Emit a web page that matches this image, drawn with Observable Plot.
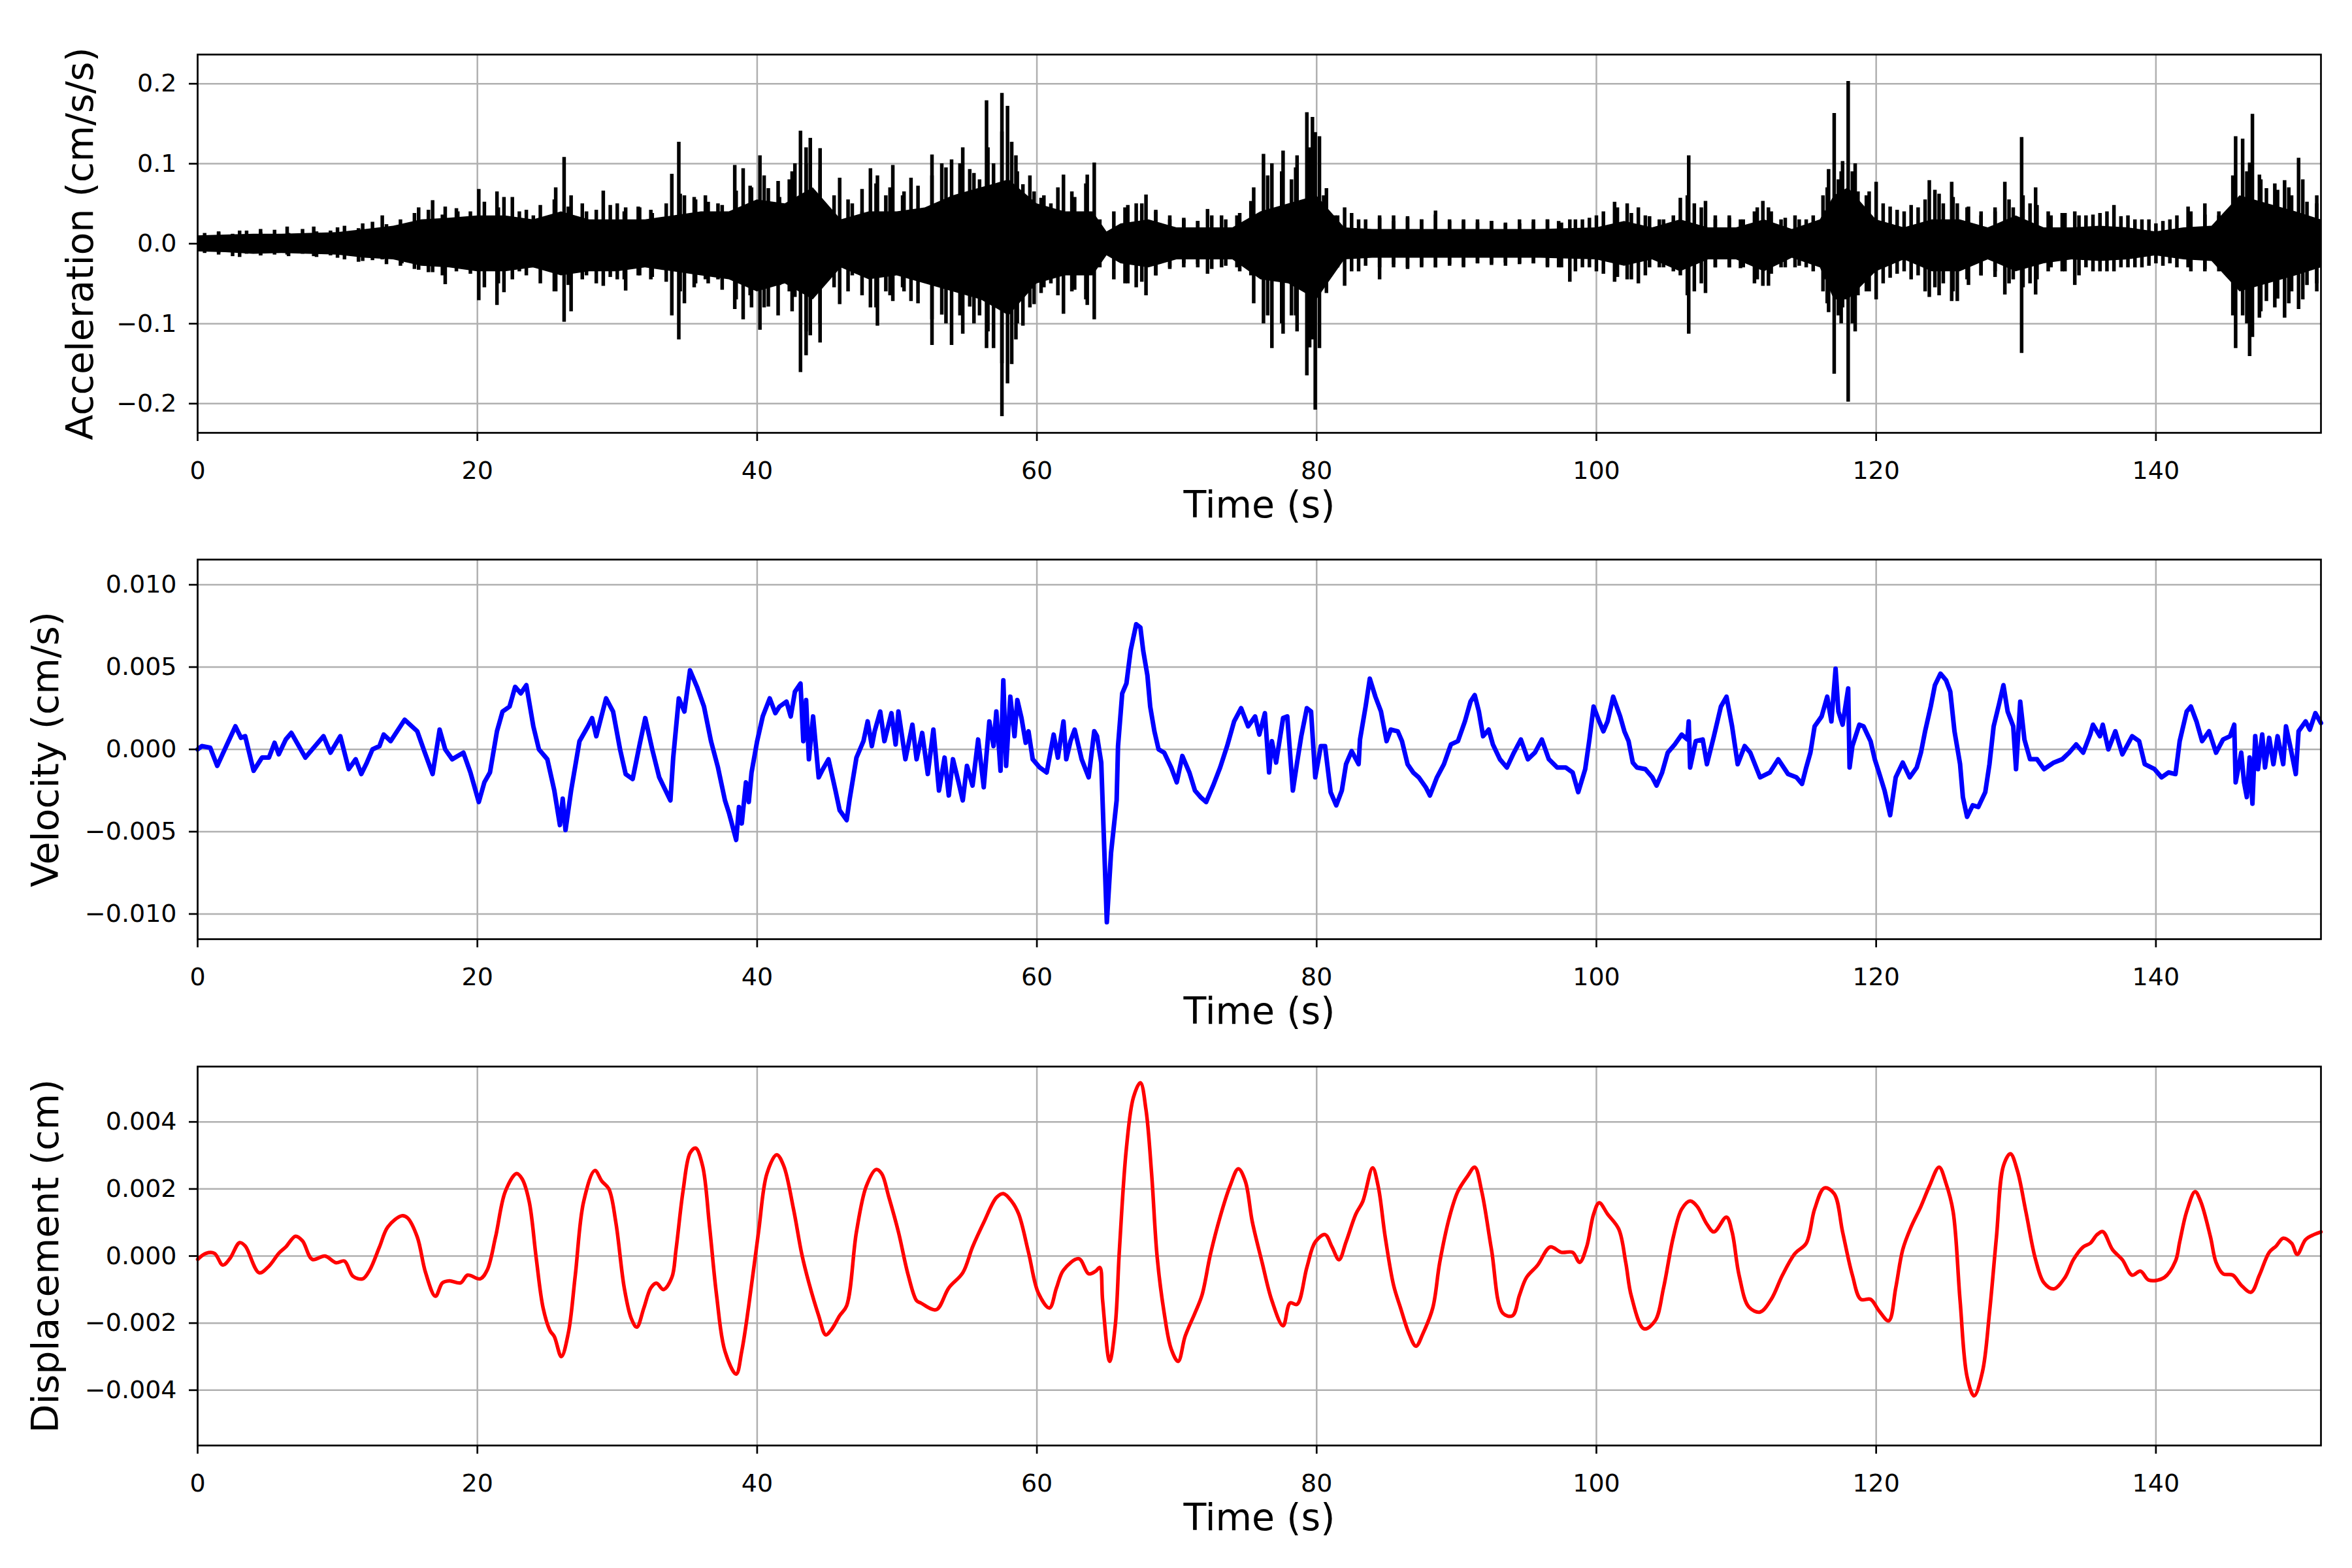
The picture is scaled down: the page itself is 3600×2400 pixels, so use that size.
<!DOCTYPE html>
<html>
<head>
<meta charset="utf-8">
<script src="https://cdn.jsdelivr.net/npm/d3@7"></script>
<script src="https://cdn.jsdelivr.net/npm/@observablehq/plot@0.6"></script>
<style>
  html, body { margin: 0; padding: 0; background: white; overflow: hidden; }
  #chart { width: 3600px; }
</style>
</head>
<body>
<div id="chart"></div>
<script>
// time axis
const tMax = 151.8
const timeTicks = [0, 20, 40, 60, 80, 100, 120, 140]

// acceleration: dense core band (cm/s/s)
const accCoreT  = [0, 2, 4, 6, 8, 10, 12, 14, 16, 18, 20, 22, 24, 26, 28, 30, 32, 34, 36, 38, 40, 42, 44, 46, 48, 50, 52, 54, 56, 58, 60, 62, 64, 65, 66, 68, 70, 72, 74, 76, 78, 80, 82, 84, 88, 92, 96, 100, 102, 104, 106, 108, 110, 112, 114, 116, 117, 118, 120, 122, 124, 126, 128, 130, 132, 134, 136, 138, 140, 142, 144, 146, 148, 150, 151.8]
const accCoreHi = [0.01, 0.011, 0.012, 0.012, 0.013, 0.014, 0.018, 0.022, 0.03, 0.032, 0.035, 0.035, 0.03, 0.04, 0.03, 0.03, 0.03, 0.035, 0.04, 0.04, 0.055, 0.05, 0.07, 0.03, 0.04, 0.04, 0.045, 0.06, 0.07, 0.08, 0.05, 0.04, 0.04, 0.015, 0.025, 0.03, 0.02, 0.02, 0.02, 0.04, 0.05, 0.06, 0.02, 0.018, 0.018, 0.018, 0.018, 0.02, 0.028, 0.02, 0.03, 0.02, 0.02, 0.03, 0.018, 0.03, 0.06, 0.07, 0.03, 0.02, 0.03, 0.03, 0.02, 0.035, 0.02, 0.02, 0.022, 0.02, 0.015, 0.02, 0.022, 0.06, 0.05, 0.04, 0.03]
const accCoreLo = [-0.01, -0.011, -0.013, -0.012, -0.013, -0.014, -0.018, -0.02, -0.028, -0.03, -0.035, -0.035, -0.03, -0.04, -0.035, -0.035, -0.03, -0.035, -0.04, -0.045, -0.06, -0.05, -0.07, -0.03, -0.045, -0.04, -0.05, -0.06, -0.07, -0.09, -0.05, -0.04, -0.04, -0.015, -0.025, -0.03, -0.02, -0.02, -0.02, -0.045, -0.05, -0.07, -0.02, -0.018, -0.018, -0.018, -0.018, -0.02, -0.028, -0.02, -0.035, -0.02, -0.02, -0.035, -0.018, -0.03, -0.07, -0.07, -0.035, -0.02, -0.035, -0.035, -0.02, -0.035, -0.025, -0.02, -0.022, -0.02, -0.015, -0.02, -0.022, -0.06, -0.05, -0.04, -0.03]

// acceleration: large spikes (time, top, bottom)
const accSpikeT  = [1.5, 3.0, 4.5, 6.4, 8.3, 10.0, 11.8, 13.2, 14.6, 15.8, 16.8, 17.7, 18.6, 19.3, 20.1, 21.4, 21.9, 23.0, 24.0, 25.6, 26.2, 26.7, 27.8, 29.0, 30.0, 30.6, 31.6, 32.4, 33.9, 34.4, 34.8, 35.6, 36.3, 37.2, 38.4, 39.0, 39.6, 40.2, 40.8, 41.6, 42.3, 42.7, 43.1, 43.5, 43.8, 44.5, 45.2, 45.9, 46.8, 47.5, 48.1, 48.6, 49.2, 49.7, 50.4, 51.0, 52.5, 53.2, 53.9, 54.7, 55.2, 55.9, 56.4, 56.9, 57.5, 57.9, 58.2, 58.6, 59.0, 59.8, 60.3, 61.0, 61.9, 62.7, 63.6, 64.1, 66.3, 67.1, 67.8, 68.5, 69.5, 70.5, 71.5, 72.2, 73.2, 74.3, 75.3, 76.2, 76.8, 77.6, 78.2, 78.6, 79.3, 79.7, 79.9, 80.2, 80.7, 81.3, 82.0, 83.0, 84.5, 85.5, 86.5, 87.5, 88.5, 89.5, 90.5, 91.5, 92.5, 93.5, 94.5, 95.5, 96.5, 97.3, 98.1, 99.0, 100.0, 101.3, 102.2, 103.0, 103.8, 104.8, 106.0, 106.6, 107.0, 107.8, 108.5, 109.5, 110.3, 111.3, 111.9, 112.3, 113.2, 114.2, 115.0, 116.2, 116.6, 117.0, 117.3, 117.6, 118.0, 118.3, 118.7, 119.3, 120.0, 121.0, 122.0, 123.0, 123.8, 124.2, 124.8, 125.4, 125.8, 126.6, 127.5, 128.5, 129.2, 129.8, 130.4, 131.0, 131.4, 132.3, 133.3, 134.2, 135.0, 136.0, 137.0, 138.0, 139.0, 140.0, 141.0, 142.3, 143.5, 144.5, 145.1, 145.7, 146.2, 146.7, 146.9, 147.4, 147.9, 148.7, 149.2, 149.7, 150.2, 150.8, 151.5]
const accSpikeHi = [0.014, 0.016, 0.018, 0.021, 0.021, 0.02, 0.025, 0.035, 0.023, 0.045, 0.054, 0.046, 0.04, 0.032, 0.068, 0.065, 0.058, 0.04, 0.035, 0.07, 0.108, 0.06, 0.04, 0.066, 0.05, 0.045, 0.045, 0.042, 0.087, 0.127, 0.06, 0.055, 0.06, 0.05, 0.098, 0.094, 0.07, 0.11, 0.069, 0.058, 0.08, 0.1, 0.141, 0.12, 0.132, 0.119, 0.04, 0.082, 0.05, 0.04, 0.094, 0.085, 0.06, 0.098, 0.06, 0.082, 0.111, 0.1, 0.105, 0.12, 0.093, 0.08, 0.179, 0.1, 0.188, 0.172, 0.127, 0.09, 0.074, 0.065, 0.057, 0.05, 0.086, 0.058, 0.086, 0.101, 0.045, 0.05, 0.061, 0.04, 0.03, 0.03, 0.028, 0.043, 0.035, 0.035, 0.053, 0.112, 0.1, 0.116, 0.08, 0.11, 0.164, 0.158, 0.139, 0.134, 0.069, 0.035, 0.045, 0.03, 0.035, 0.035, 0.032, 0.03, 0.041, 0.03, 0.028, 0.03, 0.028, 0.026, 0.025, 0.03, 0.03, 0.028, 0.03, 0.03, 0.035, 0.052, 0.05, 0.045, 0.034, 0.03, 0.057, 0.11, 0.05, 0.053, 0.03, 0.035, 0.03, 0.04, 0.053, 0.045, 0.03, 0.035, 0.03, 0.06, 0.093, 0.163, 0.08, 0.103, 0.203, 0.09, 0.065, 0.06, 0.077, 0.046, 0.04, 0.045, 0.079, 0.067, 0.05, 0.077, 0.05, 0.046, 0.035, 0.04, 0.077, 0.045, 0.133, 0.05, 0.07, 0.04, 0.038, 0.04, 0.035, 0.038, 0.048, 0.035, 0.03, 0.025, 0.03, 0.046, 0.05, 0.035, 0.035, 0.134, 0.131, 0.101, 0.162, 0.086, 0.069, 0.067, 0.079, 0.06, 0.107, 0.052, 0.05]
const accSpikeLo = [-0.012, -0.017, -0.015, -0.014, -0.016, -0.018, -0.022, -0.02, -0.025, -0.033, -0.036, -0.051, -0.03, -0.028, -0.071, -0.077, -0.061, -0.035, -0.03, -0.06, -0.098, -0.085, -0.04, -0.053, -0.045, -0.059, -0.04, -0.045, -0.09, -0.12, -0.075, -0.05, -0.045, -0.045, -0.082, -0.095, -0.08, -0.108, -0.079, -0.052, -0.06, -0.067, -0.161, -0.14, -0.115, -0.124, -0.035, -0.076, -0.04, -0.04, -0.08, -0.103, -0.06, -0.072, -0.055, -0.072, -0.127, -0.089, -0.127, -0.113, -0.079, -0.09, -0.131, -0.131, -0.216, -0.175, -0.151, -0.1, -0.103, -0.076, -0.062, -0.05, -0.088, -0.058, -0.077, -0.095, -0.05, -0.055, -0.065, -0.04, -0.03, -0.025, -0.03, -0.038, -0.03, -0.03, -0.04, -0.1, -0.131, -0.113, -0.09, -0.11, -0.165, -0.12, -0.208, -0.131, -0.062, -0.03, -0.053, -0.035, -0.045, -0.03, -0.03, -0.03, -0.03, -0.028, -0.03, -0.025, -0.025, -0.028, -0.025, -0.025, -0.03, -0.03, -0.048, -0.03, -0.035, -0.048, -0.045, -0.05, -0.03, -0.03, -0.04, -0.113, -0.06, -0.062, -0.03, -0.03, -0.031, -0.05, -0.053, -0.053, -0.03, -0.03, -0.03, -0.06, -0.086, -0.163, -0.09, -0.08, -0.198, -0.1, -0.065, -0.06, -0.07, -0.043, -0.035, -0.04, -0.067, -0.055, -0.05, -0.072, -0.072, -0.052, -0.04, -0.035, -0.064, -0.045, -0.137, -0.05, -0.064, -0.035, -0.035, -0.052, -0.03, -0.035, -0.035, -0.03, -0.03, -0.025, -0.025, -0.03, -0.035, -0.03, -0.038, -0.131, -0.09, -0.141, -0.117, -0.093, -0.072, -0.069, -0.093, -0.06, -0.082, -0.052, -0.05]

// acceleration: smaller spikes between the large ones
const accMinorT  = [0.5, 1.5, 2.5, 3.5, 4.5, 5.5, 6.5, 7.5, 8.5, 9.5, 10.5, 11.5, 12.5, 13.5, 14.5, 15.5, 16.5, 17.5, 18.5, 19.5, 20.5, 21.5, 22.5, 23.5, 24.5, 25.5, 26.5, 27.5, 28.5, 29.5, 30.5, 31.5, 32.5, 33.5, 34.5, 35.5, 36.5, 37.5, 38.5, 39.5, 40.5, 41.5, 42.5, 43.5, 44.5, 45.5, 46.5, 47.5, 48.5, 49.5, 50.5, 51.5, 52.5, 53.5, 54.5, 55.5, 56.5, 57.5, 58.5, 59.5, 60.5, 61.5, 62.5, 63.5, 64.5, 65.5, 66.5, 67.5, 68.5, 69.5, 70.5, 71.5, 72.5, 73.5, 74.5, 75.5, 76.5, 77.5, 78.5, 79.5, 80.5, 81.5, 82.5, 83.5, 84.5, 85.5, 86.5, 87.5, 88.5, 89.5, 90.5, 91.5, 92.5, 93.5, 94.5, 95.5, 96.5, 97.5, 98.5, 99.5, 100.5, 101.5, 102.5, 103.5, 104.5, 105.5, 106.5, 107.5, 108.5, 109.5, 110.5, 111.5, 112.5, 113.5, 114.5, 115.5, 116.5, 117.5, 118.5, 119.5, 120.5, 121.5, 122.5, 123.5, 124.5, 125.5, 126.5, 127.5, 128.5, 129.5, 130.5, 131.5, 132.5, 133.5, 134.5, 135.5, 136.5, 137.5, 138.5, 139.5, 140.5, 141.5, 142.5, 143.5, 144.5, 145.5, 146.5, 147.5, 148.5, 149.5, 150.5, 151.5]
const accMinorHi = [0.013, 0.015, 0.012, 0.016, 0.014, 0.017, 0.013, 0.018, 0.015, 0.016, 0.022, 0.019, 0.027, 0.024, 0.03, 0.038, 0.042, 0.036, 0.044, 0.04, 0.052, 0.045, 0.058, 0.042, 0.048, 0.055, 0.046, 0.05, 0.042, 0.048, 0.04, 0.046, 0.038, 0.05, 0.062, 0.058, 0.052, 0.048, 0.066, 0.072, 0.085, 0.078, 0.09, 0.1, 0.092, 0.06, 0.055, 0.068, 0.075, 0.07, 0.065, 0.072, 0.085, 0.095, 0.1, 0.088, 0.12, 0.14, 0.11, 0.085, 0.06, 0.07, 0.065, 0.075, 0.03, 0.04, 0.048, 0.05, 0.042, 0.035, 0.032, 0.028, 0.035, 0.03, 0.038, 0.07, 0.085, 0.09, 0.095, 0.12, 0.06, 0.035, 0.038, 0.03, 0.032, 0.028, 0.034, 0.03, 0.036, 0.028, 0.03, 0.026, 0.028, 0.025, 0.03, 0.027, 0.03, 0.026, 0.03, 0.032, 0.04, 0.045, 0.038, 0.035, 0.03, 0.035, 0.06, 0.045, 0.035, 0.032, 0.03, 0.045, 0.04, 0.032, 0.03, 0.035, 0.07, 0.09, 0.1, 0.065, 0.05, 0.042, 0.048, 0.055, 0.062, 0.058, 0.045, 0.04, 0.045, 0.055, 0.06, 0.048, 0.035, 0.038, 0.035, 0.036, 0.04, 0.034, 0.03, 0.03, 0.028, 0.035, 0.04, 0.036, 0.04, 0.085, 0.09, 0.08, 0.075, 0.07, 0.08, 0.06]
const accMinorLo = [-0.012, -0.014, -0.016, -0.013, -0.015, -0.014, -0.016, -0.013, -0.017, -0.015, -0.02, -0.023, -0.021, -0.026, -0.028, -0.032, -0.036, -0.04, -0.035, -0.038, -0.055, -0.05, -0.045, -0.04, -0.05, -0.06, -0.052, -0.045, -0.05, -0.042, -0.045, -0.04, -0.042, -0.048, -0.06, -0.055, -0.05, -0.058, -0.07, -0.065, -0.08, -0.09, -0.085, -0.11, -0.1, -0.055, -0.06, -0.065, -0.08, -0.065, -0.06, -0.075, -0.095, -0.1, -0.09, -0.1, -0.11, -0.15, -0.12, -0.08, -0.055, -0.065, -0.06, -0.07, -0.03, -0.045, -0.05, -0.048, -0.04, -0.032, -0.03, -0.026, -0.032, -0.028, -0.035, -0.075, -0.09, -0.1, -0.09, -0.13, -0.055, -0.03, -0.035, -0.028, -0.03, -0.026, -0.032, -0.028, -0.03, -0.026, -0.028, -0.025, -0.027, -0.024, -0.026, -0.025, -0.028, -0.03, -0.035, -0.03, -0.038, -0.042, -0.045, -0.04, -0.03, -0.035, -0.065, -0.05, -0.03, -0.03, -0.03, -0.045, -0.038, -0.03, -0.028, -0.035, -0.075, -0.1, -0.11, -0.06, -0.05, -0.038, -0.045, -0.06, -0.065, -0.06, -0.045, -0.04, -0.042, -0.05, -0.055, -0.045, -0.03, -0.035, -0.04, -0.035, -0.035, -0.03, -0.03, -0.028, -0.028, -0.03, -0.035, -0.032, -0.035, -0.09, -0.1, -0.085, -0.08, -0.075, -0.07, -0.06]

// velocity (units of 0.001 cm/s)
const velT = [0, 0.3, 0.9, 1.4, 2.1, 2.7, 3.1, 3.4, 4.0, 4.6, 5.1, 5.5, 5.8, 6.3, 6.7, 7.7, 9.0, 9.5, 10.2, 10.8, 11.3, 11.7, 12.1, 12.5, 13.0, 13.3, 13.8, 14.8, 15.7, 16.2, 16.8, 17.3, 17.7, 18.2, 19.0, 19.5, 20.1, 20.5, 20.9, 21.4, 21.8, 22.3, 22.7, 23.1, 23.5, 24.0, 24.4, 25.0, 25.5, 25.9, 26.1, 26.3, 26.7, 27.3, 27.9, 28.2, 28.5, 29.2, 29.7, 30.2, 30.6, 31.1, 31.6, 32.0, 32.5, 33.0, 33.4, 33.8, 34.0, 34.4, 34.8, 35.2, 35.7, 36.2, 36.7, 37.2, 37.7, 38.0, 38.5, 38.7, 38.9, 39.2, 39.4, 39.6, 40.0, 40.4, 40.9, 41.3, 41.6, 42.1, 42.4, 42.7, 43.1, 43.3, 43.5, 43.7, 44.0, 44.4, 44.7, 45.1, 45.6, 45.9, 46.4, 46.6, 47.1, 47.6, 47.9, 48.2, 48.4, 48.8, 49.1, 49.6, 49.9, 50.1, 50.6, 51.1, 51.4, 51.8, 52.2, 52.6, 53.0, 53.4, 53.7, 54.0, 54.4, 54.7, 55.0, 55.4, 55.8, 56.2, 56.6, 56.9, 57.1, 57.4, 57.6, 57.8, 58.1, 58.4, 58.6, 58.9, 59.2, 59.4, 59.7, 60.2, 60.7, 61.2, 61.5, 61.9, 62.1, 62.4, 62.7, 63.2, 63.7, 64.1, 64.3, 64.6, 65.0, 65.3, 65.7, 65.8, 66.1, 66.4, 66.7, 67.1, 67.4, 67.6, 67.9, 68.1, 68.4, 68.7, 69.1, 69.6, 70.0, 70.4, 70.9, 71.3, 71.7, 72.1, 72.6, 73.1, 73.6, 74.1, 74.6, 75.1, 75.6, 75.9, 76.3, 76.6, 76.8, 77.1, 77.6, 77.9, 78.3, 78.6, 78.9, 79.3, 79.6, 79.9, 80.3, 80.6, 81.0, 81.4, 81.8, 82.1, 82.5, 83.0, 83.1, 83.5, 83.8, 84.2, 84.6, 85.0, 85.3, 85.8, 86.1, 86.5, 86.9, 87.3, 87.8, 88.1, 88.6, 89.1, 89.6, 90.1, 90.6, 91.0, 91.3, 91.6, 91.9, 92.3, 92.6, 93.1, 93.6, 94.1, 94.6, 95.1, 95.6, 96.1, 96.6, 97.2, 97.8, 98.3, 98.7, 99.2, 99.5, 99.8, 100.2, 100.5, 100.8, 101.2, 101.7, 102.0, 102.3, 102.6, 102.9, 103.5, 104.0, 104.3, 104.7, 105.1, 105.6, 106.1, 106.5, 106.6, 106.7, 107.1, 107.6, 107.9, 108.4, 108.9, 109.3, 109.7, 110.1, 110.6, 111.0, 111.7, 112.4, 113.0, 113.7, 114.3, 114.7, 115.0, 115.3, 115.6, 116.1, 116.5, 116.8, 117.1, 117.3, 117.6, 118.0, 118.1, 118.3, 118.8, 119.1, 119.6, 119.9, 120.2, 120.6, 121.0, 121.4, 121.9, 122.4, 122.9, 123.2, 123.5, 123.9, 124.2, 124.6, 125.0, 125.3, 125.6, 126.0, 126.2, 126.5, 126.9, 127.3, 127.8, 128.1, 128.4, 128.8, 129.1, 129.4, 129.8, 130.0, 130.3, 130.6, 131.0, 131.5, 132.0, 132.7, 133.3, 133.8, 134.3, 134.8, 135.3, 135.5, 136.0, 136.2, 136.6, 137.1, 137.6, 138.3, 138.8, 139.2, 139.9, 140.4, 140.9, 141.4, 141.7, 142.2, 142.5, 142.9, 143.3, 143.8, 144.3, 144.8, 145.3, 145.6, 145.7, 146.1, 146.3, 146.5, 146.7, 146.9, 147.1, 147.3, 147.6, 147.8, 148.1, 148.4, 148.7, 149.1, 149.3, 149.6, 150.0, 150.2, 150.7, 151.0, 151.4, 151.8]
const velMilli = [0, 0.2, 0.1, -1.0, 0.3, 1.4, 0.7, 0.8, -1.3, -0.5, -0.5, 0.4, -0.3, 0.6, 1.0, -0.5, 0.8, -0.2, 0.8, -1.2, -0.6, -1.5, -0.8, 0, 0.2, 0.9, 0.5, 1.8, 1.1, -0.1, -1.5, 1.2, 0, -0.6, -0.2, -1.4, -3.2, -2.0, -1.4, 1.1, 2.3, 2.6, 3.8, 3.4, 3.9, 1.4, 0, -0.6, -2.5, -4.6, -3.0, -4.9, -2.5, 0.5, 1.4, 1.9, 0.8, 3.1, 2.3, 0, -1.5, -1.8, 0.3, 1.9, 0, -1.7, -2.4, -3.1, -0.5, 3.1, 2.3, 4.8, 3.8, 2.6, 0.5, -1.1, -3.1, -3.9, -5.5, -3.5, -4.5, -2.0, -3.2, -1.4, 0.5, 2.0, 3.1, 2.2, 2.6, 2.9, 2.0, 3.5, 4.0, 0.5, 3.0, -0.6, 2.0, -1.7, -1.2, -0.6, -2.5, -3.7, -4.3, -3.1, -0.5, 0.5, 1.7, 0.2, 1.1, 2.3, 0.5, 2.2, 0.3, 2.3, -0.6, 1.5, -0.6, 1.0, -1.5, 1.2, -2.5, -0.5, -2.8, -0.6, -2.0, -3.1, -1.0, -2.2, 0.6, -2.3, 1.7, 0.2, 2.3, -1.3, 4.2, -1.0, 3.2, 0.8, 3.0, 1.9, 0.4, 1.1, -0.6, -1.1, -1.4, 0.9, -0.5, 1.7, -0.6, 0.5, 1.2, -0.6, -1.7, 1.1, 0.8, -0.8, -10.5, -6.3, -3.1, 0.2, 3.4, 4.0, 6.0, 7.6, 7.4, 6.0, 4.5, 2.6, 1.1, 0, -0.2, -1.1, -2.0, -0.4, -1.4, -2.5, -2.9, -3.2, -2.2, -1.1, 0.2, 1.7, 2.5, 1.4, 2.0, 0.9, 2.2, -1.4, 0.5, -0.8, 1.9, 2.0, -2.5, -0.8, 0.8, 2.5, 2.3, -1.7, 0.2, 0.2, -2.6, -3.4, -2.5, -0.9, -0.1, -0.9, 0.6, 2.6, 4.3, 3.2, 2.3, 0.5, 1.2, 1.1, 0.5, -0.9, -1.4, -1.7, -2.3, -2.8, -1.7, -0.9, 0.3, 0.5, 1.7, 2.9, 3.3, 2.3, 0.8, 1.2, 0.3, -0.6, -1.1, -0.2, 0.6, -0.6, -0.2, 0.6, -0.6, -1.1, -1.1, -1.4, -2.6, -1.2, 0.6, 2.6, 1.7, 1.1, 1.7, 3.2, 2.0, 1.1, 0.5, -0.8, -1.1, -1.2, -1.7, -2.2, -1.4, -0.2, 0.3, 0.9, 0.6, 1.7, -1.1, 0.5, 0.6, -0.9, 0.8, 2.6, 3.2, 1.4, -0.9, 0.2, -0.2, -1.7, -1.4, -0.6, -1.5, -1.7, -2.1, -1.1, -0.2, 1.4, 2.0, 3.2, 1.7, 4.9, 2.3, 1.5, 3.7, -1.1, 0.2, 1.5, 1.4, 0.5, -0.6, -1.4, -2.5, -4.0, -1.7, -0.8, -1.7, -1.1, -0.2, 1.1, 2.6, 3.9, 4.6, 4.2, 3.5, 1.1, -0.9, -2.9, -4.1, -3.4, -3.5, -2.6, -0.9, 1.4, 2.8, 3.9, 2.3, 1.4, -1.2, 2.9, 0.6, -0.6, -0.6, -1.2, -0.8, -0.6, -0.2, 0.3, -0.2, 0.9, 1.5, 0.8, 1.5, 0, 1.1, -0.3, 0.8, 0.5, -0.9, -1.2, -1.7, -1.4, -1.5, 0.5, 2.3, 2.6, 1.7, 0.5, 1.1, -0.2, 0.6, 0.8, 1.5, -2.0, -0.2, -2.0, -2.9, -0.5, -3.3, 0.8, -1.2, 0.9, -1.1, 0.7, -0.9, 0.8, -0.9, 1.4, 0.2, -1.5, 1.1, 1.7, 1.2, 2.2, 1.6]

// displacement (units of 0.001 cm)
const dispT = [0, 0.6, 1.2, 1.8, 2.3, 3.0, 3.4, 4.4, 5.1, 5.8, 6.3, 7.0, 7.5, 8.2, 9.1, 9.9, 10.5, 11.1, 11.8, 12.3, 13.0, 13.6, 14.6, 15.0, 15.7, 16.3, 17.0, 17.5, 18.0, 18.8, 19.3, 20.2, 20.7, 21.3, 22.0, 22.8, 23.2, 23.7, 24.2, 24.7, 25.2, 25.5, 26.0, 26.5, 27.0, 27.6, 28.4, 28.9, 29.4, 29.9, 30.5, 31.0, 31.4, 31.9, 32.4, 32.8, 33.3, 33.9, 34.2, 34.7, 35.2, 35.6, 36.1, 36.6, 37.1, 37.7, 38.5, 38.9, 39.4, 40.1, 40.7, 41.4, 41.9, 42.6, 43.2, 43.7, 44.4, 44.9, 45.3, 45.9, 46.4, 47.1, 47.8, 48.5, 48.9, 49.4, 50.1, 50.8, 51.4, 51.7, 52.8, 53.7, 54.7, 55.4, 56.2, 57.1, 57.6, 58.2, 58.7, 59.4, 60.1, 60.9, 61.4, 61.9, 63.0, 63.7, 64.2, 64.5, 64.7, 65.2, 65.6, 65.9, 66.4, 66.9, 67.4, 67.8, 68.2, 68.6, 69.1, 69.6, 70.1, 70.6, 71.3, 71.8, 72.4, 73.1, 73.8, 74.4, 74.9, 75.4, 76.1, 76.8, 77.6, 78.1, 78.6, 79.3, 79.9, 80.6, 81.1, 81.6, 82.1, 82.8, 83.3, 84.0, 84.4, 84.9, 85.5, 86.0, 86.6, 87.1, 87.6, 88.3, 88.8, 89.5, 90.1, 90.8, 91.3, 91.8, 92.5, 93.3, 94.0, 94.5, 95.0, 95.8, 96.7, 97.5, 98.3, 98.8, 99.3, 99.8, 100.2, 100.8, 101.6, 102.1, 102.5, 103.4, 104.2, 104.8, 105.5, 106.1, 106.7, 107.2, 107.9, 108.4, 109.3, 109.7, 110.2, 110.9, 111.7, 112.5, 113.3, 114.2, 115.0, 115.6, 116.3, 117.0, 117.6, 118.3, 118.9, 119.6, 120.2, 120.9, 121.4, 121.9, 122.5, 123.2, 123.8, 124.5, 125.0, 125.5, 126.0, 126.5, 127.0, 127.6, 128.1, 128.6, 129.1, 129.6, 130.1, 130.7, 131.4, 132.0, 132.7, 133.5, 134.1, 134.8, 135.3, 135.8, 136.2, 136.9, 137.6, 138.3, 138.9, 139.5, 140.6, 141.4, 141.7, 142.2, 142.8, 143.2, 143.9, 144.3, 144.8, 145.5, 146.1, 146.8, 147.4, 148.1, 148.6, 149.1, 149.7, 150.1, 150.7, 151.3, 151.8]
const dispMilli = [-0.1, 0.08, 0.08, -0.27, -0.08, 0.4, 0.3, -0.5, -0.3, 0.08, 0.27, 0.59, 0.45, -0.1, 0, -0.2, -0.15, -0.6, -0.68, -0.42, 0.27, 0.87, 1.2, 1.14, 0.57, -0.5, -1.2, -0.8, -0.74, -0.8, -0.57, -0.68, -0.42, 0.57, 1.93, 2.46, 2.3, 1.63, -0.04, -1.55, -2.23, -2.4, -3.0, -2.3, -0.57, 1.63, 2.55, 2.23, 2.0, 1.0, -0.95, -1.86, -2.12, -1.55, -0.95, -0.81, -1.0, -0.64, 0.19, 1.93, 3.07, 3.22, 2.69, 0.87, -1.17, -2.84, -3.52, -2.84, -1.48, 0.72, 2.46, 3.02, 2.69, 1.4, 0.04, -0.8, -1.78, -2.35, -2.2, -1.78, -1.48, 0.72, 2.08, 2.58, 2.46, 1.78, 0.72, -0.57, -1.33, -1.4, -1.6, -0.95, -0.5, 0.27, 1.0, 1.74, 1.86, 1.63, 1.25, 0.11, -1.1, -1.55, -0.95, -0.42, -0.08, -0.53, -0.45, -0.34, -1.33, -3.14, -2.08, 0.19, 3.22, 4.73, 5.17, 4.36, 2.46, -0.04, -1.7, -2.77, -3.14, -2.39, -1.7, -1.17, 0.04, 1.17, 2.08, 2.6, 2.23, 1.02, -0.19, -1.33, -2.08, -1.4, -1.44, -0.34, 0.42, 0.64, 0.27, -0.11, 0.42, 1.25, 1.63, 2.63, 2.08, 0.57, -0.87, -1.55, -2.31, -2.69, -2.31, -1.55, -0.19, 1.17, 1.93, 2.39, 2.65, 1.93, 0.19, -1.7, -1.78, -1.17, -0.64, -0.27, 0.27, 0.11, 0.11, -0.19, 0.27, 1.25, 1.59, 1.25, 0.8, -0.2, -1.2, -2.17, -1.93, -0.95, 0.57, 1.4, 1.64, 1.48, 0.95, 0.72, 1.16, 0.72, -0.57, -1.52, -1.67, -1.29, -0.57, 0.08, 0.38, 1.4, 2.03, 1.86, 0.72, -0.57, -1.29, -1.29, -1.63, -1.93, -0.95, 0.19, 0.87, 1.48, 2.08, 2.65, 2.16, 1.33, -1.33, -3.6, -4.17, -3.45, -1.7, 0.57, 2.69, 3.05, 2.54, 1.33, -0.11, -0.8, -0.98, -0.64, -0.11, 0.27, 0.38, 0.64, 0.73, 0.19, -0.11, -0.57, -0.45, -0.72, -0.64, -0.15, 0.42, 1.33, 1.92, 1.63, 0.57, -0.19, -0.53, -0.57, -0.87, -1.08, -0.57, 0.11, 0.3, 0.53, 0.38, 0.05, 0.49, 0.64, 0.72]

// y tick values per panel
const accTicks = [-0.2, -0.1, 0, 0.1, 0.2]
const velTicks = [-0.01, -0.005, 0, 0.005, 0.01]
const dispTicks = [-0.004, -0.002, 0, 0.002, 0.004]

const accCore = accCoreT.map((t, i) => ({t, hi: accCoreHi[i], lo: accCoreLo[i]}))
const accSpikes = accSpikeT.map((t, i) => ({t, hi: accSpikeHi[i], lo: accSpikeLo[i]}))
  .concat(accMinorT.map((t, i) => ({t, hi: accMinorHi[i], lo: accMinorLo[i]})))
const vel = velT.map((t, i) => ({t, v: velMilli[i] / 1000}))
const disp = dispT.map((t, i) => ({t, d: dispMilli[i] / 1000}))

const gridColor = "#b0b0b0"

function panel({height, marginTop, marginBottom, yDomain, yTicks, yFormat, yLabel, labelDx, marks}) {
  return Plot.plot({
    width: 3600,
    height,
    marginLeft: 302,
    marginRight: 48,
    marginTop,
    marginBottom,
    style: {fontFamily: "DejaVu Sans", background: "white", color: "black"},
    x: {domain: [0, tMax]},
    y: {domain: yDomain},
    marks: [
      Plot.gridX(timeTicks, {stroke: gridColor, strokeOpacity: 1, strokeWidth: 2.5}),
      Plot.gridY(yTicks, {stroke: gridColor, strokeOpacity: 1, strokeWidth: 2.5}),
      ...marks,
      Plot.frame({stroke: "black", strokeWidth: 2.7}),
      Plot.axisX(timeTicks, {tickSize: 13, tickPadding: 31, strokeWidth: 2.7, fontSize: 38, tickFormat: d => String(d), label: null}),
      Plot.axisY(yTicks, {tickSize: 13, tickPadding: 19, strokeWidth: 2.7, fontSize: 38, tickFormat: yFormat, label: null}),
      Plot.text(["Time (s)"], {text: d => d, frameAnchor: "bottom", textAnchor: "middle", lineAnchor: "middle", dy: 111, fontSize: 57}),
      Plot.text([yLabel], {text: d => d, frameAnchor: "left", textAnchor: "middle", lineAnchor: "middle", dx: labelDx, rotate: -90, fontSize: 57})
    ]
  })
}

// panel frames sit at y 83-662, 856-1437 and 1632-2212 of the page
const accChart = panel({
  height: 815, marginTop: 83, marginBottom: 153,
  yDomain: [-0.2365, 0.2365], yTicks: accTicks, yFormat: d3.format(".1f"),
  yLabel: "Acceleration (cm/s/s)", labelDx: -179,
  marks: [
    Plot.areaY(accCore, {x: "t", y1: "lo", y2: "hi", fill: "black"}),
    Plot.ruleX(accSpikes, {x: "t", y1: "lo", y2: "hi", stroke: "black", strokeWidth: 5.5})
  ]
})

const velChart = panel({
  height: 775, marginTop: 41, marginBottom: 153,
  yDomain: [-0.01153, 0.01153], yTicks: velTicks, yFormat: d3.format(".3f"),
  yLabel: "Velocity (cm/s)", labelDx: -232,
  marks: [
    Plot.lineY(vel, {x: "t", y: "v", stroke: "#0000ff", strokeWidth: 7})
  ]
})

const dispChart = panel({
  height: 810, marginTop: 42, marginBottom: 188,
  yDomain: [-0.00565, 0.00565], yTicks: dispTicks, yFormat: d3.format(".3f"),
  yLabel: "Displacement (cm)", labelDx: -232,
  marks: [
    Plot.lineY(disp, {x: "t", y: "d", stroke: "#ff0000", strokeWidth: 5.5, curve: "catmull-rom"})
  ]
})

const root = d3.select("#chart")
root.append(() => accChart)
root.append(() => velChart)
root.append(() => dispChart)
</script>
</body>
</html>
